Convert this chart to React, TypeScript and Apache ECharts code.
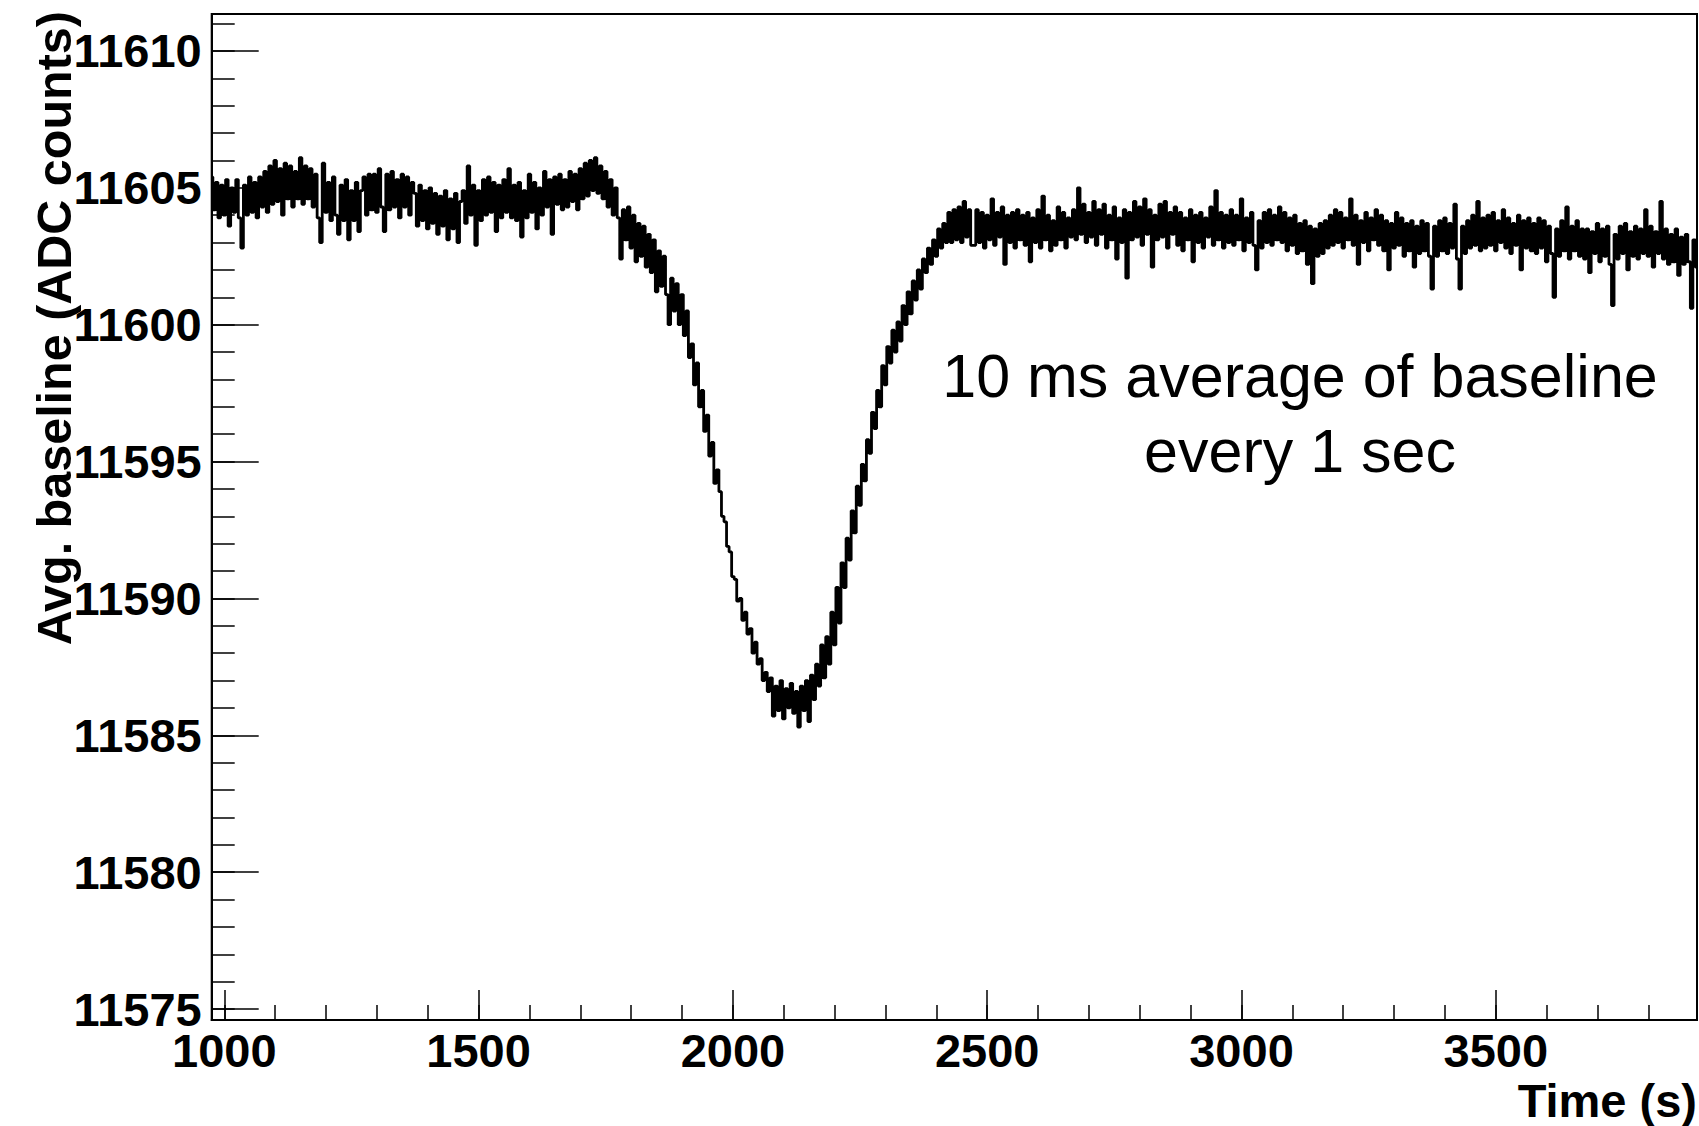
import React, { useEffect, useRef } from "react";
import * as echarts from "echarts";

// Sampled baseline (one value every T_STEP seconds, starting at T_START)
const T_START = 975;
const T_STEP = 5;
const baselineValues: number[] = [
  // 975 - 1070
  11605.4, 11604.2, 11605.2, 11603.9, 11605.1, 11604.0, 11605.3, 11603.6, 11605.0, 11604.1, 11605.3, 11603.9, 11602.8, 11605.1, 11604.0, 11605.4, 11604.1, 11605.2, 11603.9, 11605.4,
  // 1075 - 1170
  11604.3, 11605.6, 11604.1, 11605.8, 11604.4, 11606.0, 11604.5, 11605.7, 11604.0, 11605.9, 11604.6, 11605.8, 11604.3, 11605.6, 11604.6, 11606.1, 11604.4, 11605.8, 11604.6, 11605.7,
  // 1175 - 1270
  11604.3, 11605.5, 11603.9, 11603.0, 11605.9, 11604.1, 11605.2, 11603.8, 11605.4, 11604.0, 11603.3, 11605.1, 11603.8, 11605.3, 11603.1, 11604.9, 11603.8, 11605.2, 11603.4, 11604.9,
  // 1275 - 1370
  11605.4, 11604.0, 11605.5, 11604.2, 11605.5, 11604.1, 11605.7, 11604.3, 11603.4, 11605.5, 11604.2, 11605.6, 11604.3, 11605.3, 11603.9, 11605.5, 11604.3, 11605.4, 11604.0, 11605.2,
  // 1375 - 1470
  11604.8, 11603.6, 11605.1, 11603.8, 11604.9, 11603.5, 11605.0, 11603.7, 11604.8, 11603.3, 11604.7, 11603.6, 11604.9, 11603.1, 11604.6, 11603.5, 11604.8, 11603.0, 11604.5, 11604.9,
  // 1475 - 1570
  11603.7, 11605.8, 11604.0, 11605.1, 11602.9, 11604.9, 11603.8, 11605.3, 11604.0, 11605.4, 11604.1, 11605.2, 11603.4, 11605.1, 11603.9, 11605.3, 11604.1, 11605.7, 11603.9, 11605.1,
  // 1575 - 1670
  11603.8, 11605.2, 11603.2, 11604.9, 11603.9, 11605.5, 11604.1, 11605.2, 11603.5, 11605.0, 11604.0, 11605.6, 11604.3, 11605.3, 11603.3, 11605.4, 11604.4, 11605.5, 11604.2, 11605.3,
  // 1675 - 1770
  11604.3, 11605.6, 11604.5, 11605.5, 11604.2, 11605.7, 11604.6, 11605.9, 11604.7, 11606.0, 11604.9, 11606.1, 11604.8, 11605.8, 11604.6, 11605.6, 11604.3, 11605.3, 11604.0, 11605.0,
  // 1775 - 1870
  11603.9, 11602.4, 11604.2, 11603.1, 11604.3, 11602.8, 11604.0, 11602.3, 11603.7, 11602.5, 11603.6, 11602.1, 11603.3, 11601.9, 11603.1, 11601.2, 11602.7, 11601.4, 11602.5, 11601.1,
  // 1875 - 1970
  11600.0, 11601.7, 11600.5, 11601.5, 11600.0, 11601.1, 11599.6, 11600.5, 11598.8, 11599.3, 11597.8, 11598.6, 11597.0, 11597.6, 11596.1, 11596.7, 11595.2, 11595.7, 11594.2, 11594.7,
  // 1975 - 2070
  11593.9, 11593.0, 11592.8, 11591.9, 11591.7, 11590.8, 11590.7, 11589.9, 11590.0, 11589.2, 11589.5, 11588.7, 11588.9, 11588.0, 11588.4, 11587.6, 11587.8, 11587.0, 11587.3, 11586.6,
  // 2075 - 2170
  11587.1, 11585.7, 11586.8, 11585.9, 11587.0, 11585.6, 11586.7, 11586.0, 11586.9, 11585.8, 11586.6, 11585.3, 11586.8, 11585.9, 11587.0, 11585.5, 11587.2, 11586.3, 11587.6, 11586.8,
  // 2175 - 2270
  11588.3, 11587.1, 11588.6, 11587.6, 11589.5, 11588.3, 11590.4, 11589.1, 11591.3, 11590.4, 11592.2, 11591.4, 11593.2, 11592.4, 11594.1, 11593.4, 11594.9, 11594.3, 11595.8, 11595.3,
  // 2275 - 2370
  11596.8, 11596.2, 11597.6, 11597.0, 11598.5, 11597.8, 11599.2, 11598.6, 11599.8, 11599.0, 11600.1, 11599.4, 11600.7, 11600.0, 11601.2, 11600.4, 11601.6, 11600.9, 11602.0, 11601.3,
  // 2375 - 2470
  11602.4, 11601.9, 11602.8, 11602.2, 11603.1, 11602.5, 11603.5, 11602.8, 11603.7, 11603.0, 11604.1, 11603.0, 11604.2, 11603.1, 11604.3, 11603.0, 11604.5, 11603.2, 11604.2, 11602.9,
  // 2475 - 2570
  11602.9, 11604.2, 11603.0, 11604.1, 11602.8, 11604.0, 11603.1, 11604.6, 11602.9, 11604.1, 11603.2, 11604.3, 11602.2, 11604.0, 11603.0, 11604.1, 11602.8, 11604.2, 11603.1, 11604.0,
  // 2575 - 2670
  11602.9, 11604.1, 11602.3, 11603.9, 11603.0, 11604.2, 11602.8, 11604.7, 11603.1, 11604.0, 11602.7, 11603.8, 11602.9, 11604.3, 11603.1, 11604.1, 11602.8, 11603.9, 11603.2, 11604.2,
  // 2675 - 2770
  11603.1, 11605.0, 11603.3, 11604.4, 11603.0, 11604.1, 11603.2, 11604.5, 11602.9, 11604.2, 11603.3, 11604.4, 11602.8, 11604.0, 11603.1, 11604.3, 11602.4, 11603.9, 11603.0, 11604.2,
  // 2775 - 2870
  11601.7, 11604.1, 11603.1, 11604.5, 11603.2, 11604.3, 11602.9, 11604.6, 11603.3, 11604.2, 11602.1, 11604.0, 11603.1, 11604.4, 11603.2, 11604.5, 11602.8, 11604.1, 11603.3, 11604.3,
  // 2875 - 2970
  11602.9, 11604.1, 11602.7, 11603.9, 11603.1, 11604.2, 11602.3, 11604.0, 11603.0, 11604.1, 11602.8, 11603.9, 11603.2, 11604.3, 11602.9, 11604.9, 11603.1, 11604.1, 11602.8, 11604.0,
  // 2975 - 3070
  11603.0, 11604.2, 11602.9, 11604.0, 11603.1, 11604.6, 11602.7, 11603.9, 11603.0, 11604.1, 11602.9, 11602.0, 11603.8, 11602.8, 11604.1, 11603.0, 11604.2, 11602.9, 11604.0, 11603.1,
  // 3075 - 3170
  11604.3, 11603.0, 11604.1, 11602.7, 11603.9, 11602.9, 11604.0, 11602.6, 11603.7, 11602.7, 11603.8, 11602.2, 11603.6, 11601.5, 11603.5, 11602.5, 11603.7, 11602.6, 11603.8, 11602.8,
  // 3175 - 3270
  11604.0, 11602.9, 11604.2, 11603.0, 11604.1, 11602.8, 11603.9, 11603.1, 11604.6, 11602.9, 11604.0, 11602.2, 11603.8, 11603.0, 11604.1, 11602.7, 11603.9, 11603.1, 11604.2, 11602.9,
  // 3275 - 3370
  11604.0, 11602.7, 11603.8, 11602.0, 11603.7, 11602.8, 11604.1, 11602.9, 11603.9, 11602.5, 11603.7, 11602.7, 11603.8, 11602.1, 11603.6, 11602.6, 11603.8, 11602.7, 11603.7, 11602.5,
  // 3375 - 3470
  11601.3, 11603.6, 11602.5, 11603.8, 11602.7, 11603.9, 11602.6, 11603.7, 11602.8, 11604.4, 11602.4, 11601.3, 11603.6, 11602.6, 11603.8, 11602.8, 11604.0, 11602.9, 11604.5, 11602.7,
  // 3475 - 3570
  11603.9, 11602.8, 11604.0, 11602.9, 11604.1, 11602.7, 11603.8, 11603.0, 11604.2, 11602.8, 11603.9, 11602.6, 11603.7, 11602.9, 11604.0, 11602.0, 11603.8, 11602.8, 11603.9, 11602.7,
  // 3575 - 3670
  11603.7, 11602.6, 11603.9, 11602.8, 11603.8, 11602.3, 11603.6, 11602.6, 11601.0, 11603.5, 11602.5, 11603.8, 11602.7, 11604.3, 11602.4, 11603.6, 11602.7, 11603.8, 11602.5, 11603.5,
  // 3675 - 3770
  11602.4, 11603.5, 11601.9, 11603.4, 11602.6, 11603.7, 11602.3, 11603.5, 11602.5, 11603.6, 11602.2, 11600.7, 11603.3, 11602.4, 11603.6, 11602.6, 11603.7, 11602.0, 11603.4, 11602.5,
  // 3775 - 3870
  11603.6, 11602.4, 11603.5, 11602.6, 11604.2, 11602.5, 11603.6, 11602.1, 11603.4, 11602.6, 11604.5, 11602.4, 11603.5, 11602.2, 11603.3, 11602.3, 11603.5, 11601.8, 11603.2, 11602.2,
  // 3875 - 3895
  11603.3, 11602.3, 11600.6, 11603.1, 11602.1,
];

// Axis ranges and ticks
const X_MIN = 975.2;
const X_MAX = 3895.6;
const Y_MIN = 11574.6;
const Y_MAX = 11611.35;
const xMajorTicks = [1000, 1500, 2000, 2500, 3000, 3500];
const xMinorTicks = [
  1000, 1100, 1200, 1300, 1400, 1500, 1600, 1700, 1800, 1900, 2000, 2100, 2200, 2300, 2400,
  2500, 2600, 2700, 2800, 2900, 3000, 3100, 3200, 3300, 3400, 3500, 3600, 3700, 3800,
];
const yMajorTicks = [11575, 11580, 11585, 11590, 11595, 11600, 11605, 11610];
const yMinorTicks = [
  11575, 11576, 11577, 11578, 11579, 11580, 11581, 11582, 11583, 11584, 11585, 11586, 11587,
  11588, 11589, 11590, 11591, 11592, 11593, 11594, 11595, 11596, 11597, 11598, 11599, 11600,
  11601, 11602, 11603, 11604, 11605, 11606, 11607, 11608, 11609, 11610, 11611,
];

const xTitle = "Time (s)";
const yTitle = "Avg. baseline (ADC counts)";
const noteLines = ["10 ms average of baseline", "every 1 sec"];

const FONT = "'Liberation Sans', Arial, Helvetica, sans-serif";

export default function App() {
  const ref = useRef<HTMLDivElement | null>(null);

  useEffect(() => {
    if (!ref.current) return;
    const chart = echarts.init(ref.current, undefined, { renderer: "svg" });
    const data = baselineValues.map((v, i) => [T_START + i * T_STEP, v]);
    const tickLine = { color: "#000", width: 1.5 };
    const labelStyle = {
      color: "#000",
      fontFamily: FONT,
      fontWeight: "bold" as const,
      fontSize: 47,
    };

    chart.setOption({
      animation: false,
      backgroundColor: "#ffffff",
      grid: {
        left: 211.7,
        top: 14,
        right: 2,
        bottom: 106,
        show: true,
        borderColor: "#000",
        borderWidth: 2,
        backgroundColor: "transparent",
        containLabel: false,
        outerBoundsMode: "none",
      },
      xAxis: [
        {
          type: "value",
          min: X_MIN,
          max: X_MAX,
          position: "bottom",
          axisLine: { show: true, lineStyle: { color: "#000", width: 2 } },
          axisTick: { show: true, inside: true, length: 30, customValues: xMajorTicks, lineStyle: tickLine },
          axisLabel: {
            show: true,
            customValues: xMajorTicks,
            formatter: (v: number) => String(v),
            margin: 7,
            ...labelStyle,
          },
          splitLine: { show: false },
        },
        {
          type: "value",
          min: X_MIN,
          max: X_MAX,
          position: "bottom",
          axisLine: { show: false },
          axisTick: { show: true, inside: true, length: 15, customValues: xMinorTicks, lineStyle: tickLine },
          axisLabel: { show: false },
          splitLine: { show: false },
        },
      ],
      yAxis: [
        {
          type: "value",
          min: Y_MIN,
          max: Y_MAX,
          position: "left",
          axisLine: { show: true, lineStyle: { color: "#000", width: 2 } },
          axisTick: { show: true, inside: true, length: 47, customValues: yMajorTicks, lineStyle: tickLine },
          axisLabel: {
            show: true,
            customValues: yMajorTicks,
            formatter: (v: number) => String(v),
            margin: 10,
            ...labelStyle,
          },
          splitLine: { show: false },
        },
        {
          type: "value",
          min: Y_MIN,
          max: Y_MAX,
          position: "left",
          axisLine: { show: false },
          axisTick: { show: true, inside: true, length: 23, customValues: yMinorTicks, lineStyle: tickLine },
          axisLabel: { show: false },
          splitLine: { show: false },
        },
      ],
      series: [
        {
          type: "line",
          xAxisIndex: 0,
          yAxisIndex: 0,
          data,
          step: "middle",
          symbol: "none",
          showSymbol: false,
          clip: true,
          lineStyle: { color: "#000", width: 2.8 },
        },
      ],
      graphic: [
        {
          type: "text",
          x: 54,
          y: 11,
          rotation: Math.PI / 2,
          style: {
            text: yTitle,
            fill: "#000",
            fontFamily: FONT,
            fontWeight: "bold",
            fontSize: 48.5,
            align: "right",
            verticalAlign: "middle",
            textAlign: "right",
            textVerticalAlign: "middle",
          },
        },
        {
          type: "text",
          x: 1697,
          y: 1100,
          style: {
            text: xTitle,
            fill: "#000",
            fontFamily: FONT,
            fontWeight: "bold",
            fontSize: 47,
            align: "right",
            verticalAlign: "middle",
            textAlign: "right",
            textVerticalAlign: "middle",
          },
        },
        {
          type: "text",
          x: 1300,
          y: 376,
          style: {
            text: noteLines[0],
            fill: "#000",
            fontFamily: FONT,
            fontSize: 61,
            align: "center",
            verticalAlign: "middle",
            textAlign: "center",
            textVerticalAlign: "middle",
          },
        },
        {
          type: "text",
          x: 1300,
          y: 451,
          style: {
            text: noteLines[1],
            fill: "#000",
            fontFamily: FONT,
            fontSize: 61,
            align: "center",
            verticalAlign: "middle",
            textAlign: "center",
            textVerticalAlign: "middle",
          },
        },
      ],
    });

    return () => chart.dispose();
  }, []);

  return (
    <div
      ref={ref}
      style={{ position: "fixed", left: 0, top: 0, width: 1699, height: 1126, background: "#fff" }}
    />
  );
}
